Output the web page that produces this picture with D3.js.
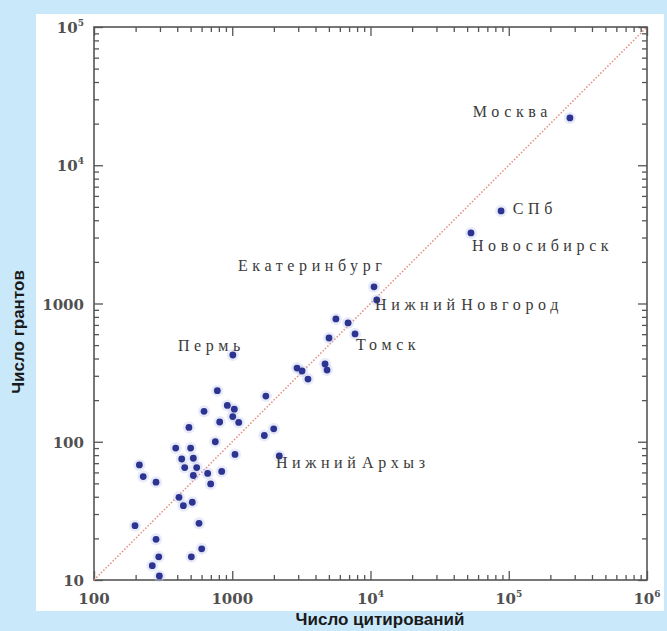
<!DOCTYPE html>
<html>
<head>
<meta charset="utf-8">
<script src="https://cdn.jsdelivr.net/npm/d3@7"></script>
<style>
  body { margin: 0; background: #c9e8f9; }
  svg { display: block; }
</style>
</head>
<body>
<div id="chart"></div>
<script>
const width = 667
const height = 631

// citations (x) and grants (y) per city
const citations = [277000, 88000, 53300, 10600, 11100, 5620, 6880, 7730, 5010, 2940,
  3200, 3530, 4690, 4850, 1010, 780, 1750, 625, 921, 1035,
  1008, 1114, 811, 486, 754, 1706, 1995, 2190, 1047, 390,
  500, 431, 523, 453, 553, 523, 664, 839, 698, 281,
  412, 443, 514, 575, 281, 601, 506, 294, 264, 297,
  213, 227, 198]
const grants = [22000, 4670, 3240, 1320, 1060, 773, 723, 602, 563, 341,
  325, 284, 365, 330, 424, 234, 214, 166, 183, 172,
  152, 138, 139, 127, 100, 111, 124, 79, 81, 90,
  90, 75, 76, 65, 65, 57, 59, 61, 49.5, 51,
  39.6, 34.5, 36.5, 25.7, 19.7, 16.8, 14.7, 14.7, 12.7, 10.7,
  68, 56, 24.7]

// city names and where their text starts (in data units)
const labelText = ["Москва", "СПб", "Новосибирск", "Екатеринбург", "Нижний Новгород", "Томск", "Пермь", "Нижний Архыз"]
const labelX = [55000, 107000, 54200, 1100, 10800, 7850, 405, 2070]
const labelY = [22300, 4440, 2400, 1718, 898, 461, 453, 64.6]

const xDomain = [100, 1e6]
const yDomain = [10, 1e5]
const xTickLabels = ["100", "1000", "10|4", "10|5", "10|6"]
const yTickLabels = ["10", "100", "1000", "10|4", "10|5"]

const pLeft = 94, pRight = 647, pTop = 27, pBottom = 580

const svg = d3.select("#chart").append("svg")
  .attr("width", width)
  .attr("height", height)

// white panel behind the plot
svg.append("rect")
  .attr("x", 36).attr("y", 14)
  .attr("width", 628).attr("height", 597)
  .attr("fill", "#ffffff")

const x = d3.scaleLog().domain(xDomain).range([pLeft, pRight])
const y = d3.scaleLog().domain(yDomain).range([pBottom, pTop])

const isMajor = v => Math.abs(Math.log10(v) - Math.round(Math.log10(v))) < 1e-9
const xMinor = x.ticks().filter(v => !isMajor(v))
const xMajor = x.ticks().filter(isMajor)
const yMinor = y.ticks().filter(v => !isMajor(v))
const yMajor = y.ticks().filter(isMajor)

// ticks on all four sides, pointing inward
function ticks(axis, vals, size, transform) {
  const g = svg.append("g")
    .attr("transform", transform)
    .call(axis.tickValues(vals).tickSize(-size).tickSizeOuter(0).tickFormat(""))
  g.select(".domain").remove()
  g.selectAll("line").attr("stroke", "#555").attr("stroke-width", 1.3)
}
ticks(d3.axisBottom(x), xMinor, 5, `translate(0,${pBottom})`)
ticks(d3.axisBottom(x), xMajor, 9, `translate(0,${pBottom})`)
ticks(d3.axisTop(x), xMinor, 5, `translate(0,${pTop})`)
ticks(d3.axisTop(x), xMajor, 9, `translate(0,${pTop})`)
ticks(d3.axisLeft(y), yMinor, 5, `translate(${pLeft},0)`)
ticks(d3.axisLeft(y), yMajor, 9, `translate(${pLeft},0)`)
ticks(d3.axisRight(y), yMinor, 5, `translate(${pRight},0)`)
ticks(d3.axisRight(y), yMajor, 9, `translate(${pRight},0)`)

// frame
svg.append("rect")
  .attr("x", pLeft).attr("y", pTop)
  .attr("width", pRight - pLeft).attr("height", pBottom - pTop)
  .attr("fill", "none")
  .attr("stroke", "#555")
  .attr("stroke-width", 1.6)

// tick labels, "10|4" means 10 with superscript 4
function tickLabel(sel, s) {
  const parts = s.split("|")
  sel.append("tspan").text(parts[0])
  if (parts[1]) {
    sel.append("tspan").attr("dy", -7).attr("font-size", 9).text(parts[1])
  }
}
const tickFont = "'DejaVu Serif', serif"
xMajor.forEach((v, i) => {
  const t = svg.append("text")
    .attr("x", x(v)).attr("y", 604)
    .attr("text-anchor", "middle")
    .attr("font-family", tickFont).attr("font-size", 15).attr("font-weight", "bold")
    .attr("fill", "#505050")
  tickLabel(t, xTickLabels[i])
})
yMajor.forEach((v, i) => {
  const t = svg.append("text")
    .attr("x", 84).attr("y", y(v) + 6)
    .attr("text-anchor", "end")
    .attr("font-family", tickFont).attr("font-size", 15).attr("font-weight", "bold")
    .attr("fill", "#505050")
  tickLabel(t, yTickLabels[i])
})

// y = x / 10 reference line
svg.append("line")
  .attr("x1", x(xDomain[0])).attr("y1", y(xDomain[0] / 10))
  .attr("x2", x(xDomain[1])).attr("y2", y(xDomain[1] / 10))
  .attr("stroke", "#e38b7d")
  .attr("stroke-width", 1.5)
  .attr("stroke-dasharray", "1.5,1.8")

// dots
const pts = citations.map((c, i) => [c, grants[i]])
svg.append("g").selectAll("circle.halo")
  .data(pts).enter().append("circle")
  .attr("cx", d => x(d[0])).attr("cy", d => y(d[1]))
  .attr("r", 6)
  .attr("fill", "#b9c3ea")
  .attr("opacity", 0.35)
svg.append("g").selectAll("circle.dot")
  .data(pts).enter().append("circle")
  .attr("cx", d => x(d[0])).attr("cy", d => y(d[1]))
  .attr("r", 3.4)
  .attr("fill", "#2c3390")

// city names
svg.append("g").selectAll("text")
  .data(labelText).enter().append("text")
  .attr("x", (d, i) => x(labelX[i]))
  .attr("y", (d, i) => y(labelY[i]))
  .attr("font-family", "'Liberation Serif', serif")
  .attr("font-size", 16)
  .attr("letter-spacing", 4.6)
  .attr("word-spacing", -7)
  .attr("fill", "#3a3a3a")
  .text(d => d)

// axis titles
svg.append("text")
  .attr("x", 380).attr("y", 625)
  .attr("text-anchor", "middle")
  .attr("font-family", "'Liberation Sans', Arial, sans-serif")
  .attr("font-weight", "bold").attr("font-size", 17)
  .attr("fill", "#1a1a1a")
  .text("Число цитирований")
svg.append("text")
  .attr("transform", "translate(24,332) rotate(-90)")
  .attr("text-anchor", "middle")
  .attr("font-family", "'Liberation Sans', Arial, sans-serif")
  .attr("font-weight", "bold").attr("font-size", 17)
  .attr("fill", "#1a1a1a")
  .text("Число грантов")
</script>
</body>
</html>
